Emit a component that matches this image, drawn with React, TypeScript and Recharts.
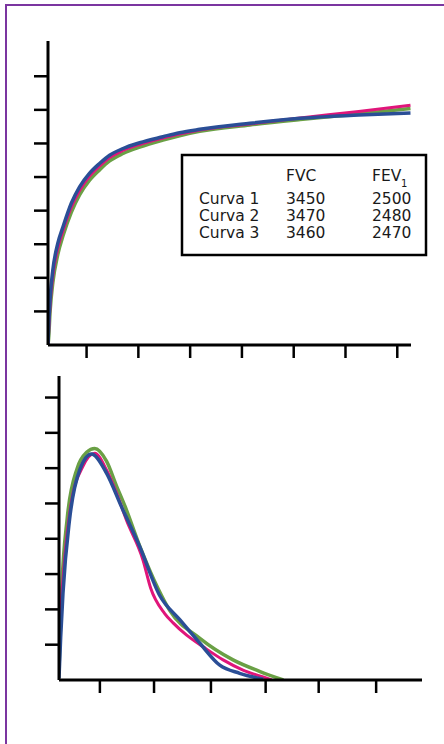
import { Line, LineChart, XAxis, YAxis } from "recharts";

// curva volumen-tiempo (arriba)
const tiempo = [0, 0.01, 0.043, 0.093, 0.19, 0.29, 0.45, 0.61, 0.8, 1.0, 1.19, 1.45, 1.77, 2.22, 2.54, 2.93, 3.9, 4.87, 6.0, 7.0];
const volumen1 = [0, 0.3, 1.25, 2.05, 2.88, 3.4, 4.1, 4.6, 5.02, 5.33, 5.58, 5.79, 5.97, 6.16, 6.28, 6.4, 6.58, 6.76, 6.95, 7.14];
const volumen2 = [0, 0.15, 1.05, 1.85, 2.7, 3.25, 3.95, 4.47, 4.9, 5.22, 5.48, 5.7, 5.89, 6.1, 6.23, 6.36, 6.55, 6.71, 6.88, 7.04];
const volumen3 = [0, 0.45, 1.44, 2.23, 3.03, 3.52, 4.22, 4.71, 5.11, 5.41, 5.65, 5.85, 6.02, 6.2, 6.32, 6.42, 6.6, 6.75, 6.85, 6.91];

// curva flujo-volumen (abajo)
const fvVol1 = [0, 0.04, 0.1, 0.22, 0.43, 0.647, 0.86, 1.04, 1.22, 1.52, 1.66, 1.91, 2.07, 2.31, 2.61, 2.97, 3.33, 3.76, 3.85];
const flujo1 = [1.3, 2.2, 3.4, 5.0, 6.04, 6.42, 5.95, 5.3, 4.53, 3.4, 2.6, 1.89, 1.61, 1.27, 0.94, 0.57, 0.28, 0.05, 0];
const fvVol2 = [0, 0.05, 0.15, 0.33, 0.5, 0.647, 0.86, 1.04, 1.2, 1.46, 1.79, 2.0, 2.55, 3.15, 3.64, 4.06];
const flujo2 = [0.3, 2.6, 4.6, 6.0, 6.45, 6.56, 6.2, 5.5, 4.9, 3.8, 2.6, 1.98, 1.18, 0.57, 0.24, 0];
const fvVol3 = [0, 0.03, 0.072, 0.19, 0.375, 0.587, 0.86, 1.13, 1.46, 1.82, 2.19, 2.55, 2.91, 3.27, 3.7];
const flujo3 = [0.05, 1.2, 2.46, 4.53, 5.95, 6.4, 5.86, 4.91, 3.78, 2.4, 1.7, 1.04, 0.42, 0.19, 0.02];

const ticksTiempo = [0.745, 1.745, 2.745, 3.745, 4.745, 5.745, 6.745];
const ticksVolumen = [1, 2, 3, 4, 5, 6, 7, 8];
const ticksFvX = [0.74, 1.72, 2.75, 3.74, 4.7, 5.74];
const ticksFlujo = [1, 2, 3, 4, 5, 6, 7, 8];

const curvas = ["Curva 1", "Curva 2", "Curva 3"];
const fvc = [3450, 3470, 3460];
const fev1 = [2500, 2480, 2470];

const colores = ["#e0157a", "#6aa045", "#2a4e96"];

const pts = (xs: number[], ys: number[]) => xs.map((x, i) => ({ x, y: ys[i] }));

const ejeLinea = { stroke: "#000", strokeWidth: 3 };
const ejeTick = { stroke: "#000", strokeWidth: 2.5 };
const sinTexto = () => "";
const fuente = "DejaVu Sans, sans-serif";

function Curvas({ series }: { series: { x: number; y: number }[][] }) {
  // orden de dibujo: verde, rosa, azul
  const orden = [1, 0, 2];
  return (
    <>
      {orden.map((i) => (
        <Line
          key={i}
          data={series[i]}
          dataKey="y"
          type="monotone"
          stroke={colores[i]}
          strokeWidth={i === 0 ? 3 : 3.5}
          dot={false}
          isAnimationActive={false}
        />
      ))}
    </>
  );
}

export default function App() {
  const vt = [pts(tiempo, volumen1), pts(tiempo, volumen2), pts(tiempo, volumen3)];
  const fv = [pts(fvVol1, flujo1), pts(fvVol2, flujo2), pts(fvVol3, flujo3)];
  return (
    <div style={{ position: "absolute", left: 0, top: 0, width: 444, height: 744, overflow: "hidden", background: "#fff" }}>
      <svg width={444} height={744} style={{ position: "absolute", left: 0, top: 0 }}>
        {/* marco morado: solo borde izquierdo y superior */}
        <polyline points="6,744 6,5 444,5" fill="none" stroke="#7b35a0" strokeWidth={2} />
      </svg>

      <div style={{ position: "absolute", left: 0, top: 0 }}>
        <LineChart width={444} height={380} margin={{ top: 41, right: 33, bottom: 20, left: 33 }}>
          <XAxis dataKey="x" type="number" domain={[0, 7.01]} ticks={ticksTiempo} axisLine={ejeLinea} tickLine={ejeTick} tickSize={13} tickFormatter={sinTexto} height={15} allowDataOverflow />
          <YAxis type="number" domain={[0, 9.05]} ticks={ticksVolumen} axisLine={ejeLinea} tickLine={ejeTick} tickSize={14} tickFormatter={sinTexto} width={15} allowDataOverflow />
          {Curvas({ series: vt })}
        </LineChart>
      </div>

      <div style={{ position: "absolute", left: 0, top: 360 }}>
        <LineChart width={444} height={384} margin={{ top: 16, right: 22, bottom: 49, left: 44 }}>
          <XAxis dataKey="x" type="number" domain={[0, 6.57]} ticks={ticksFvX} axisLine={ejeLinea} tickLine={ejeTick} tickSize={13} tickFormatter={sinTexto} height={15} allowDataOverflow />
          <YAxis type="number" domain={[0, 8.61]} ticks={ticksFlujo} axisLine={ejeLinea} tickLine={ejeTick} tickSize={14} tickFormatter={sinTexto} width={15} allowDataOverflow />
          {Curvas({ series: fv })}
        </LineChart>
      </div>

      <svg width={444} height={744} style={{ position: "absolute", left: 0, top: 0 }} fontFamily={fuente} fontSize={15.5} fill="#1a1a1a">
        <rect x={182} y={155} width={244} height={100} fill="#fff" stroke="#000" strokeWidth={2.5} />
        <text x={286} y={181}>FVC</text>
        <text x={372} y={181}>FEV</text>
        <text x={401} y={187} fontSize={10}>1</text>
        {curvas.map((c, i) => (
          <g key={c}>
            <text x={199} y={204 + i * 17}>{c}</text>
            <text x={286} y={204 + i * 17}>{fvc[i]}</text>
            <text x={372} y={204 + i * 17}>{fev1[i]}</text>
          </g>
        ))}
      </svg>
    </div>
  );
}
